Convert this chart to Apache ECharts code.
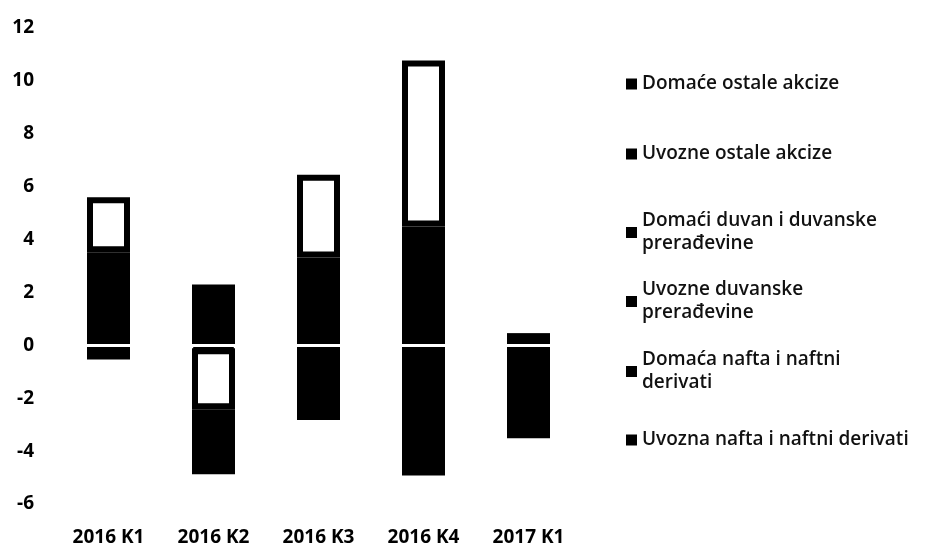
<!DOCTYPE html>
<html lang="sr">
  <head>
    <meta charset="utf-8" />
    <title>Akcize</title>
    <style>
      html, body { margin: 0; padding: 0; background: #fff; }
      #chart-container { width: 927px; height: 547px; }
    </style>
  </head>
  <body>
    <div id="chart-container"></div>
    <script src="https://cdn.jsdelivr.net/npm/echarts@6/dist/echarts.min.js"></script>
    <script>
      var categories = ["2016 K1", "2016 K2", "2016 K3", "2016 K4", "2017 K1"];

      // stack order bottom -> top (legend lists them reversed)
      var uvoznaNafta = [1.25, 1.8, 1.45, 2.35, -1.5];
      var domacaNafta = [0.87, 0.5, 0.77, 1.07, -1.98];
      var uvozneDuvanske = [1.4, -0.11, 1.1, 1.07, 0.33];
      var domaciDuvan = [2.08, -2.31, 3.13, 6.28, 0];
      var uvozneOstale = [-0.38, -2.3, -1.25, -2.6, 0];
      var domaceOstale = [0, 0, -1.54, -2.28, 0];

      var yTicks = { min: -6, max: 12, step: 2 };

      var names = [
        "Uvozna nafta i naftni derivati",
        "Domaća nafta i naftni derivati",
        "Uvozne duvanske prerađevine",
        "Domaći duvan i duvanske prerađevine",
        "Uvozne ostale akcize",
        "Domaće ostale akcize"
      ];
      var values = [uvoznaNafta, domacaNafta, uvozneDuvanske, domaciDuvan, uvozneOstale, domaceOstale];
      var fills = ["#000", "#000", "#000", "#fff", "#000", "#000"];

      // legend text as wrapped in the original
      var legendText = {
        "Domaći duvan i duvanske prerađevine": "Domaći duvan i duvanske\nprerađevine",
        "Uvozne duvanske prerađevine": "Uvozne duvanske\nprerađevine",
        "Domaća nafta i naftni derivati": "Domaća nafta i naftni\nderivati"
      };

      var dom = document.getElementById("chart-container");
      var myChart = echarts.init(dom, null, { renderer: "canvas" });

      var font = "'Open Sans', 'Noto Sans', sans-serif";

      var seriesList = names.map(function (name, i) {
        var dark = fills[i] === "#000";
        return {
          name: name,
          type: "bar",
          stack: "total",
          barWidth: 43,
          data: values[i],
          itemStyle: {
            color: fills[i],
            borderColor: "#000",
            borderWidth: 6,
            // 1px hard shadow hides the anti-alias seams between black segments
            shadowColor: dark ? "#000" : "rgba(0,0,0,0)",
            shadowBlur: 0,
            shadowOffsetY: dark ? 1 : 0
          },
          emphasis: { disabled: true }
        };
      });

      // legend rows, top to bottom (icon centre y)
      var legendRows = [84, 154, 232, 301, 371, 440];
      var legends = names.slice().reverse().map(function (name, i) {
        var twoLine = !!legendText[name];
        return {
          data: [name],
          orient: "vertical",
          left: 626,
          top: legendRows[i] - (twoLine ? 34 : 11.5),
          padding: 0,
          icon: "rect",
          itemWidth: 11,
          itemHeight: 11,
          itemStyle: { color: "#000", borderWidth: 0 },
          selectedMode: false,
          formatter: function (n) { return legendText[n] || n; },
          textStyle: {
            fontFamily: font,
            fontSize: 19,
            fontWeight: 600,
            lineHeight: 23,
            color: "#111",
            padding: twoLine ? [23, 0, 0, 0] : 0
          }
        };
      });

      var option = {
        animation: false,
        backgroundColor: "#fff",
        grid: { left: 56, right: 346, top: 28, bottom: 42 },
        legend: legends,
        xAxis: [
          {
            type: "category",
            data: categories,
            axisLine: { show: false, onZero: false },
            axisTick: { show: false },
            axisLabel: {
              margin: 24,
              color: "#000",
              fontFamily: font,
              fontWeight: "bold",
              fontSize: 19
            }
          },
          {
            // white zero line drawn over the bars
            type: "category",
            data: categories,
            position: "bottom",
            z: 10,
            axisLine: { show: true, onZero: true, lineStyle: { color: "#fff", width: 3 } },
            axisTick: { show: false },
            axisLabel: { show: false }
          }
        ],
        yAxis: {
          type: "value",
          min: yTicks.min,
          max: yTicks.max,
          interval: yTicks.step,
          axisLine: { show: false },
          axisTick: { show: false },
          splitLine: { show: false },
          axisLabel: {
            margin: 22,
            color: "#000",
            fontFamily: font,
            fontWeight: "bold",
            fontSize: 19
          }
        },
        series: seriesList
      };

      myChart.setOption(option);
      window.addEventListener("resize", myChart.resize);
    </script>
  </body>
</html>
